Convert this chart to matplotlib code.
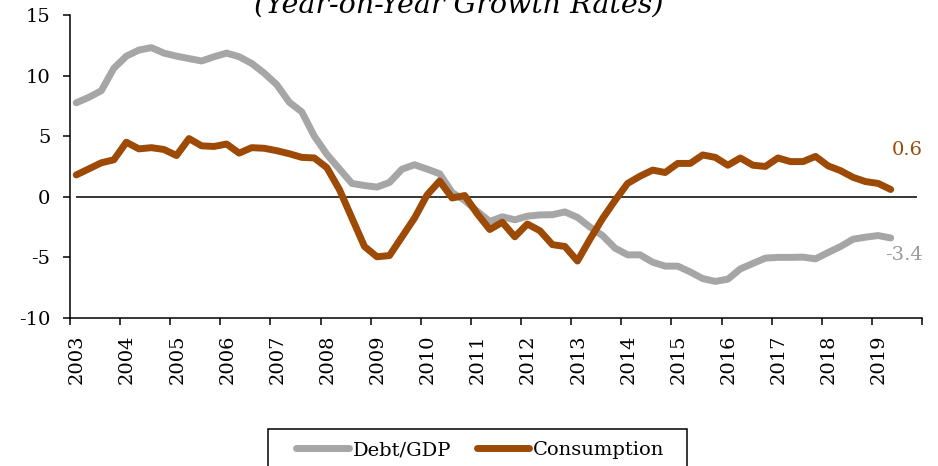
import numpy as np
import matplotlib
matplotlib.use("Agg")
import matplotlib.pyplot as plt
import matplotlib.transforms as mtransforms
from matplotlib.patches import Rectangle

plt.rcParams['font.family'] = ['DejaVu Serif']
plt.rcParams['axes.unicode_minus'] = False

# quarterly series, 2003Q1 .. 2019Q2 (year-on-year growth, %)
debt_gdp = [7.75, 8.2, 8.75, 10.6, 11.6, 12.1, 12.3, 11.85, 11.6, 11.4,
            11.2, 11.55, 11.85, 11.55, 11.0, 10.2, 9.25, 7.8, 7.0, 5.0,
            3.5, 2.3, 1.1, 0.93, 0.8, 1.18, 2.28, 2.64, 2.28, 1.9,
            0.35, -0.3, -1.2, -2.04, -1.65, -1.9, -1.6, -1.5, -1.48, -1.25,
            -1.7, -2.5, -3.2, -4.24, -4.79, -4.79, -5.4, -5.72, -5.72, -6.2,
            -6.75, -6.98, -6.8, -5.95, -5.5, -5.06, -5.0, -5.0, -4.98, -5.12,
            -4.6, -4.1, -3.5, -3.33, -3.2, -3.4]
consumption = [1.8, 2.3, 2.8, 3.05, 4.5, 3.95, 4.05, 3.9, 3.4, 4.8,
               4.2, 4.15, 4.35, 3.6, 4.05, 4.0, 3.8, 3.55, 3.25, 3.2,
               2.4, 0.6, -1.75, -4.1, -4.95, -4.85, -3.3, -1.75, 0.15, 1.3,
               -0.1, 0.1, -1.4, -2.7, -2.1, -3.3, -2.25, -2.8, -3.95, -4.1,
               -5.3, -3.5, -1.8, -0.3, 1.1, 1.7, 2.2, 2.0, 2.75, 2.75,
               3.45, 3.25, 2.6, 3.2, 2.6, 2.5, 3.2, 2.9, 2.9, 3.33,
               2.55, 2.15, 1.6, 1.25, 1.1, 0.6]
years = list(range(2003, 2020))
series_names = ['Debt/GDP', 'Consumption']
colors = ['#A6A6A6', '#9C4A06']

# each quarter plotted at its mid-point
t = 2003 + (np.arange(len(debt_gdp)) + 0.5) / 4

fig = plt.figure(figsize=(9.38, 4.66), dpi=100)
ax = fig.add_axes([0.0746, 0.3176, 0.9084, 0.6504])

ax.hlines(0, t[0] - 0.01, 2019.9, color='black', lw=1.1, zorder=1)
for vals, name, c in zip([debt_gdp, consumption], series_names, colors):
    ax.plot(t, vals, color=c, lw=5, label=name, zorder=2,
            solid_capstyle='round', solid_joinstyle='round')

ax.annotate(f'{consumption[-1]:.1f}', (t[-1], consumption[-1]),
            xytext=(1, 39), textcoords='offset pixels',
            ha='left', va='center', color=colors[1], fontsize=14)
ax.annotate(f'{debt_gdp[-1]:.1f}', (t[-1], debt_gdp[-1]),
            xytext=(-6, -17), textcoords='offset pixels',
            ha='left', va='center', color='#999999', fontsize=14)

ax.set_xlim(2003, 2020)
ax.set_ylim(-10, 15)
ax.set_yticks(range(-10, 16, 5))
ax.set_xticks(range(2003, 2021))
ax.set_xticklabels([str(y) for y in years] + [''], rotation=90)

for s in ['top', 'right']:
    ax.spines[s].set_visible(False)
for s in ['left', 'bottom']:
    ax.spines[s].set_linewidth(1.1)
ax.tick_params(axis='y', length=5, width=1.1, pad=9, labelsize=14)
ax.tick_params(axis='x', length=5, width=1.1, pad=7, labelsize=14)

# nudge the rotated year labels to the right
shift = mtransforms.ScaledTranslation(7 / 100, 0, fig.dpi_scale_trans)
for lab in ax.get_xticklabels():
    lab.set_transform(lab.get_transform() + shift)

fig.text(0.4888, 0.972, '(Year-on-Year Growth Rates)', ha='center',
         va='baseline', fontsize=20.5, style='italic')

# legend entries without their own frame; the box is drawn separately
leg = fig.legend(loc='center', bbox_to_anchor=(0.5122, 0.0343),
                 ncol=2, fontsize=14, frameon=False,
                 handlelength=2.7, handletextpad=0.2,
                 columnspacing=1.3, borderpad=0.0, borderaxespad=0)
for h in leg.get_lines():
    h.set_linewidth(5)
    h.set_solid_capstyle('round')
fig.patches.append(Rectangle((0.2857, -0.05), 0.4467, 0.1294, fill=False,
                             edgecolor='black', lw=1.1,
                             transform=fig.transFigure, figure=fig))

fig.savefig('out.png', dpi=100)
